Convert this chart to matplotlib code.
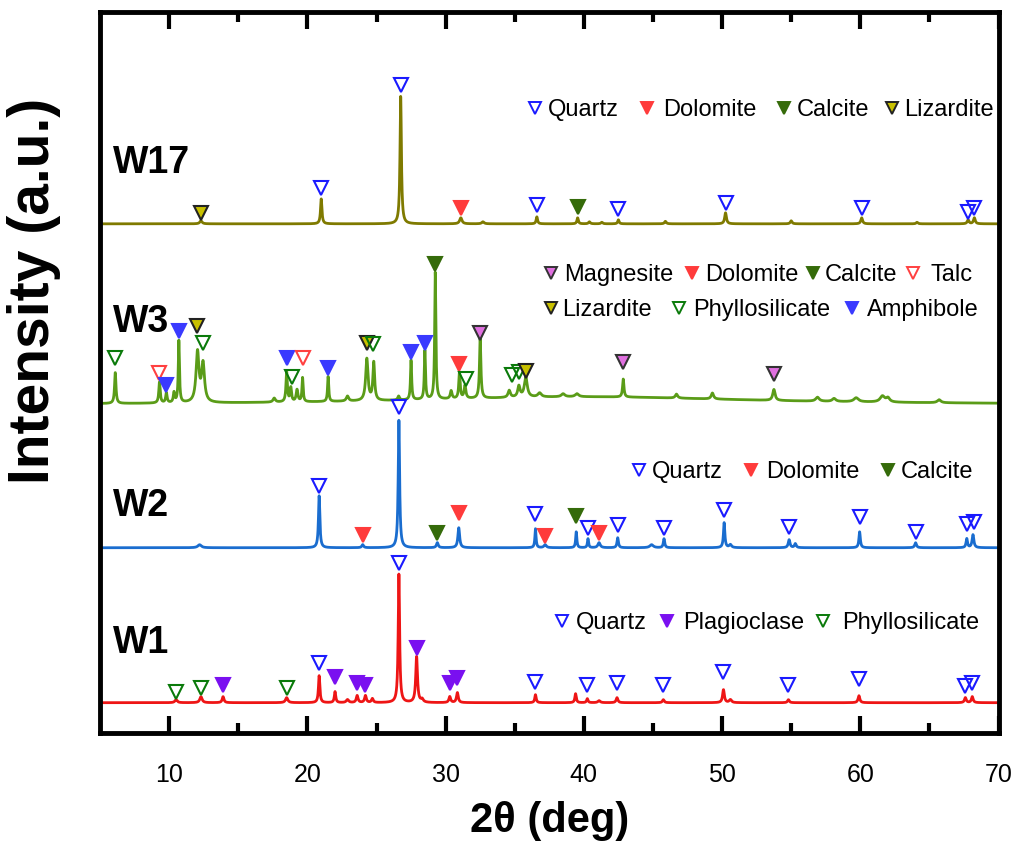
import numpy as np
import matplotlib
matplotlib.use("Agg")
import matplotlib.pyplot as plt

plt.rcParams['font.family'] = ['Liberation Sans', 'DejaVu Sans']

# peak lists: (2theta, height above baseline, fwhm)
w1_base = 30
w1_peaks = [(10.5, 3, 0.2), (12.3, 6, 0.2), (13.9, 6, 0.15), (18.5, 5, 0.2),
            (20.85, 27, 0.12), (22.0, 11, 0.12), (22.9, 3, 0.2), (23.6, 7, 0.15),
            (24.2, 7, 0.15), (24.7, 4, 0.15), (26.62, 129, 0.12), (27.9, 46, 0.15),
            (28.3, 3, 0.2), (30.3, 6, 0.15), (30.85, 10, 0.15), (36.5, 8, 0.12),
            (39.4, 9, 0.12), (40.25, 4, 0.12), (41.1, 2, 0.2), (42.4, 5, 0.15),
            (45.75, 3, 0.15), (50.1, 13, 0.15), (50.6, 3, 0.2), (54.8, 3, 0.15),
            (59.9, 7, 0.15), (67.6, 5, 0.15), (68.1, 6, 0.15)]

w2_base = 185
w2_peaks = [(12.2, 3, 0.3), (20.85, 52, 0.12), (24.0, 3, 0.15), (26.62, 128, 0.12),
            (29.4, 5, 0.15), (30.95, 20, 0.15), (36.5, 19, 0.1), (37.2, 3, 0.2),
            (39.45, 16, 0.1), (40.3, 9, 0.1), (41.1, 5, 0.2), (42.45, 10, 0.12),
            (44.9, 3, 0.3), (45.8, 9, 0.12), (50.15, 25, 0.12), (50.6, 3, 0.2),
            (54.85, 8, 0.15), (55.3, 4, 0.15), (59.95, 16, 0.12), (64.0, 5, 0.15),
            (67.7, 9, 0.12), (68.15, 13, 0.15)]

w3_base = 328
w3_peaks = [(40.0, 8, 30.0),
            (6.1, 31, 0.12), (9.3, 21, 0.12), (9.8, 10, 0.12), (10.35, 10, 0.12),
            (10.7, 62, 0.1), (12.05, 50, 0.25), (12.45, 38, 0.25), (17.6, 4, 0.2),
            (18.5, 30, 0.12), (18.8, 14, 0.12), (19.25, 12, 0.15), (19.65, 24, 0.1),
            (21.5, 25, 0.1), (22.9, 5, 0.2), (24.3, 42, 0.2), (24.8, 38, 0.15),
            (26.6, 4, 0.15), (27.5, 40, 0.1), (28.5, 49, 0.1), (29.25, 127, 0.1),
            (30.4, 8, 0.15), (31.0, 26, 0.12), (31.4, 13, 0.15), (32.5, 60, 0.12),
            (34.6, 7, 0.2), (35.3, 11, 0.2), (35.8, 20, 0.25), (36.8, 4, 0.3),
            (38.5, 3, 0.3), (39.5, 3, 0.3), (42.85, 18, 0.12), (46.7, 4, 0.2),
            (49.3, 6, 0.2), (53.75, 11, 0.2), (56.9, 4, 0.3), (58.1, 3, 0.3),
            (59.7, 4, 0.4), (61.6, 6, 0.4), (62.0, 4, 0.3), (65.7, 3, 0.3)]

w17_base = 509
w17_peaks = [(12.3, 3, 0.2), (21.0, 25, 0.12), (26.75, 128, 0.12), (31.1, 6, 0.2),
             (32.7, 2, 0.2), (36.6, 7, 0.12), (39.55, 6, 0.12), (40.4, 2, 0.15),
             (41.3, 1.5, 0.15), (42.5, 4, 0.12), (45.9, 2.5, 0.15), (50.25, 11, 0.15),
             (55.0, 3, 0.15), (60.1, 6, 0.15), (64.1, 1.5, 0.15), (67.8, 4, 0.15),
             (68.25, 6, 0.15)]

# phase markers: (phase, 2theta, level)
w1_marks = [("Phyllosilicate", 10.5, 41), ("Phyllosilicate", 12.3, 45), ("Plagioclase", 13.9, 48),
            ("Phyllosilicate", 18.5, 45), ("Quartz", 20.85, 70), ("Plagioclase", 22.0, 56),
            ("Plagioclase", 23.6, 50), ("Plagioclase", 24.2, 48), ("Quartz", 26.62, 170),
            ("Plagioclase", 27.9, 85), ("Plagioclase", 30.3, 50), ("Plagioclase", 30.85, 55),
            ("Quartz", 36.5, 51), ("Quartz", 40.25, 48), ("Quartz", 42.4, 50),
            ("Quartz", 45.75, 48), ("Quartz", 50.1, 61), ("Quartz", 54.8, 48),
            ("Quartz", 59.9, 54), ("Quartz", 67.6, 47), ("Quartz", 68.1, 50)]

w2_marks = [("Quartz", 20.85, 247), ("Dolomite", 24.0, 198), ("Quartz", 26.62, 326),
            ("Calcite", 29.4, 200), ("Dolomite", 30.95, 220), ("Quartz", 36.5, 219),
            ("Dolomite", 37.2, 197), ("Calcite", 39.45, 217), ("Quartz", 40.3, 205),
            ("Dolomite", 41.1, 200), ("Quartz", 42.45, 208), ("Quartz", 45.8, 205),
            ("Quartz", 50.15, 223), ("Quartz", 54.85, 206), ("Quartz", 59.95, 216),
            ("Quartz", 64.0, 201), ("Quartz", 67.7, 209), ("Quartz", 68.2, 211)]

w3_marks = [("Phyllosilicate", 6.1, 375), ("Talc", 9.3, 360), ("Amphibole", 9.8, 348),
            ("Amphibole", 10.7, 402), ("Lizardite", 12.0, 407), ("Phyllosilicate", 12.45, 390),
            ("Amphibole", 18.5, 375), ("Phyllosilicate", 18.85, 356), ("Talc", 19.65, 375),
            ("Amphibole", 21.5, 365), ("Lizardite", 24.3, 390), ("Phyllosilicate", 24.75, 389),
            ("Amphibole", 27.5, 381), ("Amphibole", 28.5, 390), ("Calcite", 29.25, 469),
            ("Dolomite", 31.0, 369), ("Phyllosilicate", 31.45, 354), ("Magnesite", 32.5, 400),
            ("Phyllosilicate", 34.8, 358), ("Phyllosilicate", 35.3, 361), ("Lizardite", 35.8, 362),
            ("Magnesite", 42.85, 371), ("Magnesite", 53.75, 359)]

w17_marks = [("Lizardite", 12.3, 520), ("Quartz", 21.0, 545), ("Quartz", 26.75, 648),
             ("Dolomite", 31.1, 525), ("Quartz", 36.6, 528), ("Calcite", 39.55, 526),
             ("Quartz", 42.5, 524), ("Quartz", 50.25, 530), ("Quartz", 60.1, 525),
             ("Quartz", 67.8, 521), ("Quartz", 68.25, 525)]

# face colour, edge colour for each phase
styles = {
    "Quartz": ("none", "#1a1aff"),
    "Dolomite": ("#ff3b3b", "#ff3b3b"),
    "Calcite": ("#356b0a", "#356b0a"),
    "Lizardite": ("#c8c000", "#222222"),
    "Magnesite": ("#e070e0", "#333333"),
    "Talc": ("none", "#ff4040"),
    "Phyllosilicate": ("none", "#0a7a0a"),
    "Amphibole": ("#3a3aff", "#3a3aff"),
    "Plagioclase": ("#7a10f0", "#7a10f0"),
}

tt = np.linspace(5, 70, 6000)


def pattern(base, peaks):
    y = np.full_like(tt, base, dtype=float)
    for pos, h, w in peaks:
        y += h / (1 + ((tt - pos) / (w / 2)) ** 2)
    return y


def draw_marks(ax, marks, ms=10):
    for phase, x, y in marks:
        fc, ec = styles[phase]
        ax.plot(x, y, 'v', ms=ms, mfc=fc, mec=ec, mew=1.5, zorder=4)


def draw_legend(ax, rows):
    for y, entries in rows:
        for phase, xm, xt in entries:
            fc, ec = styles[phase]
            ax.plot(xm, y + 2, 'v', ms=9, mfc=fc, mec=ec, mew=1.4, zorder=4)
            ax.text(xt, y, phase, fontsize=17, va='center', ha='left')


fig = plt.figure(figsize=(10.21, 8.49), dpi=100)
ax = fig.add_axes([0.098, 0.137, 0.88, 0.849])

ax.plot(tt, pattern(w1_base, w1_peaks), color='#ee1515', lw=2)
ax.plot(tt, pattern(w2_base, w2_peaks), color='#1a6dcf', lw=2)
ax.plot(tt, pattern(w3_base, w3_peaks), color='#5a9c18', lw=2)
ax.plot(tt, pattern(w17_base, w17_peaks), color='#7f7a00', lw=2)

draw_marks(ax, w1_marks)
draw_marks(ax, w2_marks)
draw_marks(ax, w3_marks)
draw_marks(ax, w17_marks)

draw_legend(ax, [(623, [("Quartz", 36.5, 37.4), ("Dolomite", 44.6, 45.7),
                        ("Calcite", 54.5, 55.4), ("Lizardite", 62.3, 63.2)])])
draw_legend(ax, [(458, [("Magnesite", 37.6, 38.6), ("Dolomite", 47.8, 48.8),
                        ("Calcite", 56.6, 57.4), ("Talc", 63.8, 65.1)]),
                 (423, [("Lizardite", 37.6, 38.4), ("Phyllosilicate", 46.9, 47.9),
                        ("Amphibole", 59.4, 60.5)])])
draw_legend(ax, [(261, [("Quartz", 44.0, 44.9), ("Dolomite", 52.1, 53.2),
                        ("Calcite", 62.0, 62.9)])])
draw_legend(ax, [(110, [("Quartz", 38.4, 39.4), ("Plagioclase", 46.0, 47.2),
                        ("Phyllosilicate", 57.3, 58.7)])])

for name, y in [("W17", 570), ("W3", 411), ("W2", 227), ("W1", 90)]:
    ax.text(5.9, y, name, fontsize=27, fontweight='bold', va='center', ha='left')

ax.set_xlim(5, 70)
ax.set_ylim(0, 721)
ax.set_xticks(range(10, 71, 10))
ax.set_xticks(range(15, 70, 10), minor=True)
ax.set_yticks([])
ax.tick_params(axis='x', which='both', direction='in', top=True, width=3,
               labelsize=18, pad=22)
ax.tick_params(axis='x', which='major', length=12)
ax.tick_params(axis='x', which='minor', length=7)
for s in ax.spines.values():
    s.set_linewidth(3.5)

ax.set_xlabel('2θ (deg)', fontsize=30, fontweight='bold', labelpad=10)
fig.text(0.033, 1 - 291 / 849, 'Intensity (a.u.)', rotation=90, fontsize=41,
         fontweight='bold', va='center', ha='center')

fig.savefig('out.png', dpi=100)
